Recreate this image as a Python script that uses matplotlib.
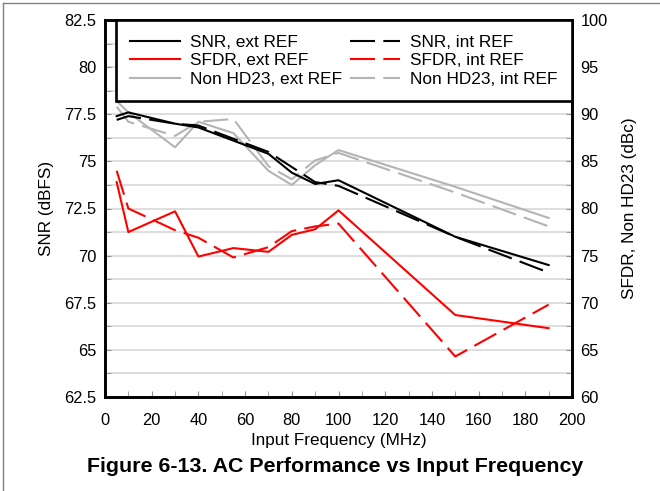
import matplotlib
matplotlib.use("Agg")
import matplotlib.pyplot as plt
from matplotlib.ticker import MultipleLocator
from matplotlib.lines import Line2D

plt.rcParams['font.family'] = ['Liberation Sans', 'DejaVu Sans']

# data
freq = [5, 10, 30, 40, 55, 70, 80, 90, 100, 150, 190]
snr_ext = [77.4, 77.6, 77.0, 76.8, 76.1, 75.4, 74.4, 73.8, 74.0, 71.0, 69.5]
snr_int = [77.2, 77.4, 77.0, 76.9, 76.2, 75.5, 74.7, 73.9, 73.7, 71.0, 69.1]
sfdr_ext = [82.8, 77.5, 79.7, 74.9, 75.8, 75.4, 77.2, 77.8, 79.8, 68.7, 67.3]
sfdr_int = [84.0, 80.0, 77.7, 76.9, 74.8, 75.9, 77.6, 78.1, 78.4, 64.3, 69.8]
nhd_ext = [91.4, 90.2, 86.5, 89.2, 88.0, 84.0, 82.5, 84.6, 86.2, 82.3, 79.0]
nhd_int = [90.8, 89.2, 87.7, 89.2, 89.5, 84.5, 83.1, 85.1, 85.9, 81.7, 78.1]

GRAY = '#b4b4b4'
DASH = (0, (12, 4))
LW = 1.5

fig = plt.figure(figsize=(6.6, 4.91), dpi=100)
ax = fig.add_axes([105/660, 1-397/491, 467/660, 377/491])
ax2 = ax.twinx()

# grid + red/gray lines live on the right axis, drawn underneath
ax.set_zorder(ax2.get_zorder() + 1)
ax.patch.set_visible(False)
ax2.patch.set_visible(True)
ax2.patch.set_facecolor('white')

h_sfdr_ext, = ax2.plot(freq, sfdr_ext, color='red', lw=LW)
h_sfdr_int, = ax2.plot(freq, sfdr_int, color='red', lw=LW, linestyle=DASH)
h_nhd_ext, = ax2.plot(freq, nhd_ext, color=GRAY, lw=LW)
h_nhd_int, = ax2.plot(freq, nhd_int, color=GRAY, lw=LW, linestyle=DASH)
h_snr_ext, = ax.plot(freq, snr_ext, color='black', lw=LW)
h_snr_int, = ax.plot(freq, snr_int, color='black', lw=LW, linestyle=DASH)

ax.set_xlim(0, 200)
ax.set_ylim(62.5, 82.5)
ax2.set_ylim(60, 100)
ax.xaxis.set_major_locator(MultipleLocator(20))
ax.xaxis.set_minor_locator(MultipleLocator(10))
ax.yaxis.set_major_locator(MultipleLocator(2.5))
ax.yaxis.set_minor_locator(MultipleLocator(1.25))
ax2.yaxis.set_major_locator(MultipleLocator(5))
ax2.yaxis.set_minor_locator(MultipleLocator(2.5))
ax.set_yticklabels([f'{v:g}' for v in ax.get_yticks()])

#grid
ax2.grid(True, which='both', axis='y', color='#d4d4d4', lw=1.1)
ax2.xaxis.set_minor_locator(MultipleLocator(10))
ax2.grid(True, which='both', axis='x', color='#d4d4d4', lw=1.1)

for a in (ax, ax2):
    a.tick_params(which='both', direction='in', length=4, color='#909090',
                  labelsize=11.8, pad=6)
    for s in a.spines.values():
        s.set_linewidth(1.9)
ax.tick_params(axis='x', pad=11.5)
ax2.tick_params(axis='x', which='both', length=0)

ax.set_xlabel('Input Frequency (MHz)', fontsize=12.3)
ax.set_ylabel('SNR (dBFS)', fontsize=12.3)
ax2.set_ylabel('SFDR, Non HD23 (dBc)', fontsize=12.3)
ax.xaxis.set_label_coords(0.5, -0.095)
ax.yaxis.set_label_coords(-0.11, 0.5)
ax2.yaxis.set_label_coords(1.108, 0.5)

handles = [h_snr_ext, h_sfdr_ext, h_nhd_ext, h_snr_int, h_sfdr_int, h_nhd_int]
labels = ['SNR, ext REF', 'SFDR, ext REF', 'Non HD23, ext REF',
          'SNR, int REF', 'SFDR, int REF', 'Non HD23, int REF']
leg = ax.legend(handles, labels, ncol=2, loc='upper right', bbox_to_anchor=(1, 1),
                borderaxespad=0, fontsize=12.4, handlelength=2.9, handletextpad=0.55,
                columnspacing=0.5, labelspacing=0.2, borderpad=0.85,
                fancybox=False, framealpha=1, edgecolor='black')
leg.get_frame().set_linewidth(1.9)

fig.text(0.508, 1-466/491, 'Figure 6-13. AC Performance vs Input Frequency',
         ha='center', va='center', fontsize=15.4, fontweight='bold')

# page border visible on the left and top edge
fig.add_artist(Line2D([3/660, 3/660], [0, 1-3/491], color='#808080', lw=1))
fig.add_artist(Line2D([3/660, 1], [1-3/491, 1-3/491], color='#808080', lw=1))

fig.savefig('out.png', dpi=100)
